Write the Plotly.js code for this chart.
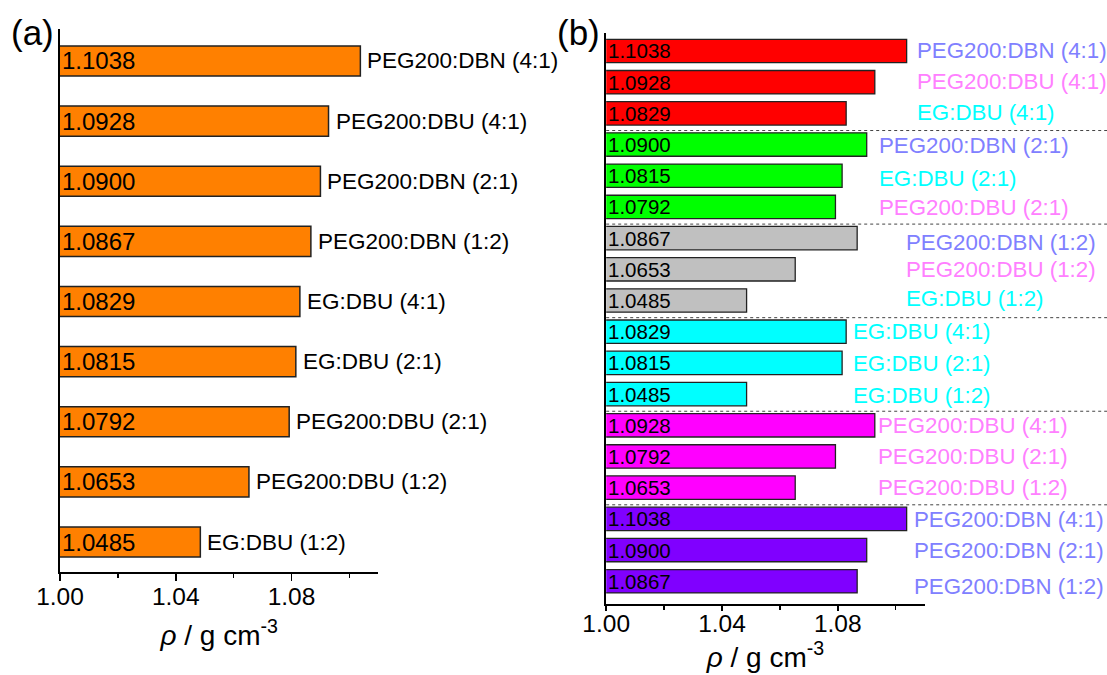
<!DOCTYPE html>
<html>
<head>
<meta charset="utf-8">
<script src="https://cdn.plot.ly/plotly-3.0.1.min.js"></script>
<style>
  html, body { margin: 0; padding: 0; background: #fff; }
  #chart { width: 1107px; height: 675px; }
</style>
</head>
<body>
<div id="chart"></div>
<script>
// ---- Panel (a): all mixtures ranked by density ----
const namesA = [
  'PEG200:DBN (4:1)', 'PEG200:DBU (4:1)', 'PEG200:DBN (2:1)',
  'PEG200:DBN (1:2)', 'EG:DBU (4:1)', 'EG:DBU (2:1)',
  'PEG200:DBU (2:1)', 'PEG200:DBU (1:2)', 'EG:DBU (1:2)'
];
const densA = [1.1038, 1.0928, 1.0900, 1.0867, 1.0829, 1.0815, 1.0792, 1.0653, 1.0485];

// ---- Panel (b): grouped by molar ratio, then by system ----
const groupNamesB = ['4:1', '2:1', '1:2', 'EG:DBU', 'PEG200:DBU', 'PEG200:DBN'];
const namesB = [
  'PEG200:DBN (4:1)', 'PEG200:DBU (4:1)', 'EG:DBU (4:1)',
  'PEG200:DBN (2:1)', 'EG:DBU (2:1)', 'PEG200:DBU (2:1)',
  'PEG200:DBN (1:2)', 'PEG200:DBU (1:2)', 'EG:DBU (1:2)',
  'EG:DBU (4:1)', 'EG:DBU (2:1)', 'EG:DBU (1:2)',
  'PEG200:DBU (4:1)', 'PEG200:DBU (2:1)', 'PEG200:DBU (1:2)',
  'PEG200:DBN (4:1)', 'PEG200:DBN (2:1)', 'PEG200:DBN (1:2)'
];
const densB = [
  1.1038, 1.0928, 1.0829,
  1.0900, 1.0815, 1.0792,
  1.0867, 1.0653, 1.0485,
  1.0829, 1.0815, 1.0485,
  1.0928, 1.0792, 1.0653,
  1.1038, 1.0900, 1.0867
];

// ---- styling ----
const FONT = 'Liberation Sans, Arial, sans-serif';
const groupFill = ['#FF0000', '#00FF00', '#C0C0C0', '#00FFFF', '#FF00FF', '#8000FF'];
const systemColor = { 'PEG200:DBN': '#8080FF', 'PEG200:DBU': '#FF80FF', 'EG:DBU': '#00FFFF' };
// left edge of each group's label column, in axis units
const labelXB = [1.1066, 1.0937, 1.1030, 1.0845, 1.0933, 1.1056];
// small vertical nudges (px, downward) for the labels of panel (b)
const labelDyB = [0, -1, -1, 1, 3, 1, 4, 0, -2, 0, 1, 1, 0, 0, 0, 1, 0, 5];

const domAx = [60 / 1107, 378.3 / 1107];
const domBx = [606.2 / 1107, 924.6 / 1107];
const domAy = [1 - 571.7 / 675, 1 - 29 / 675];
const domBy = [1 - 604 / 675, 1 - 33 / 675];

const posA = densA.map((_, i) => i);
const posB = densB.map((_, i) => i);
const groupOf = i => Math.floor(i / 3);

const traces = [
  {
    type: 'bar', orientation: 'h', x: densA, y: posA, xaxis: 'x', yaxis: 'y',
    width: 0.5,
    marker: { color: '#FF8000', line: { color: '#222', width: 1.5 } },
    hoverinfo: 'skip', showlegend: false
  },
  {
    type: 'bar', orientation: 'h', x: densB, y: posB, xaxis: 'x2', yaxis: 'y2',
    width: 0.75,
    marker: { color: posB.map(i => groupFill[groupOf(i)]), line: { color: '#222', width: 1.3 } },
    hoverinfo: 'skip', showlegend: false
  }
];

const annotations = [];
// value labels inside the bars, and system names to the right
densA.forEach((v, i) => {
  annotations.push({
    xref: 'x', yref: 'y', x: 1.0, y: i, xanchor: 'left', yanchor: 'middle',
    text: v.toFixed(4), showarrow: false, xshift: 0,
    font: { family: FONT, size: 24, color: '#000' }
  });
  annotations.push({
    xref: 'x', yref: 'y', x: v, y: i, xanchor: 'left', yanchor: 'middle',
    text: namesA[i], showarrow: false, xshift: 5,
    font: { family: FONT, size: 22.5, color: '#000' }
  });
});
densB.forEach((v, i) => {
  annotations.push({
    xref: 'x2', yref: 'y2', x: 1.0, y: i, xanchor: 'left', yanchor: 'middle',
    text: v.toFixed(4), showarrow: false, xshift: 0,
    font: { family: FONT, size: 20.5, color: '#000' }
  });
  const sys = namesB[i].split(' ')[0];
  annotations.push({
    xref: 'x2', yref: 'y2', x: labelXB[groupOf(i)], y: i, xanchor: 'left', yanchor: 'middle',
    text: namesB[i], showarrow: false, yshift: -labelDyB[i],
    font: { family: FONT, size: 22.3, color: systemColor[sys] }
  });
});
// panel letters
annotations.push({
  xref: 'paper', yref: 'paper', x: 32.5 / 1107, y: 1 - 33 / 675, xanchor: 'center', yanchor: 'middle',
  text: '(a)', showarrow: false, font: { family: FONT, size: 35, color: '#000' }
});
annotations.push({
  xref: 'paper', yref: 'paper', x: 578 / 1107, y: 1 - 33 / 675, xanchor: 'center', yanchor: 'middle',
  text: '(b)', showarrow: false, font: { family: FONT, size: 35, color: '#000' }
});

// dotted separators between the groups of panel (b)
const shapes = [];
for (let g = 1; g < groupNamesB.length; g++) {
  shapes.push({
    type: 'line', xref: 'paper', yref: 'y2',
    x0: domBx[0], x1: 1, y0: g * 3 - 0.45, y1: g * 3 - 0.45,
    line: { color: '#444', width: 1, dash: 'dot' }
  });
}

const xAxisBase = {
  range: [1.0, 1.11], tick0: 1.0, dtick: 0.04, tickformat: '.2f',
  ticks: 'outside', tickwidth: 1.8, tickcolor: '#000',
  minor: { tick0: 1.0, dtick: 0.02, ticks: 'outside', ticklen: 4, tickwidth: 1.3, tickcolor: '#000' },
  showline: true, linecolor: '#000', linewidth: 2,
  showgrid: false, zeroline: false, fixedrange: true,
  tickfont: { family: FONT, size: 24.5, color: '#000' },
  automargin: false
};
const yAxisBase = {
  showline: true, linecolor: '#000', linewidth: 2,
  ticks: '', showticklabels: false, showgrid: false, zeroline: false, fixedrange: true
};

const titleText = '<i>ρ</i> / g cm<sup>-3</sup>';
const layout = {
  width: 1107, height: 675,
  margin: { l: 0, r: 0, t: 0, b: 0 },
  paper_bgcolor: '#fff', plot_bgcolor: '#fff',
  bargap: 0,
  xaxis: Object.assign({}, xAxisBase, {
    domain: domAx, anchor: 'y', ticklen: 7, ticklabelstandoff: -5,
    title: { text: titleText, font: { family: FONT, size: 28, color: '#000' }, standoff: 16 }
  }),
  yaxis: Object.assign({}, yAxisBase, { domain: domAy, anchor: 'x', range: [8.494, -0.532] }),
  xaxis2: Object.assign({}, xAxisBase, {
    domain: domBx, anchor: 'y2', ticklen: 5, ticklabelstandoff: -8,
    title: { text: titleText, font: { family: FONT, size: 28, color: '#000' }, standoff: 6 }
  }),
  yaxis2: Object.assign({}, yAxisBase, { domain: domBy, anchor: 'x2', range: [17.73, -0.577] }),
  annotations: annotations,
  shapes: shapes
};

Plotly.newPlot('chart', traces, layout, { displayModeBar: false, staticPlot: true });
</script>
</body>
</html>
